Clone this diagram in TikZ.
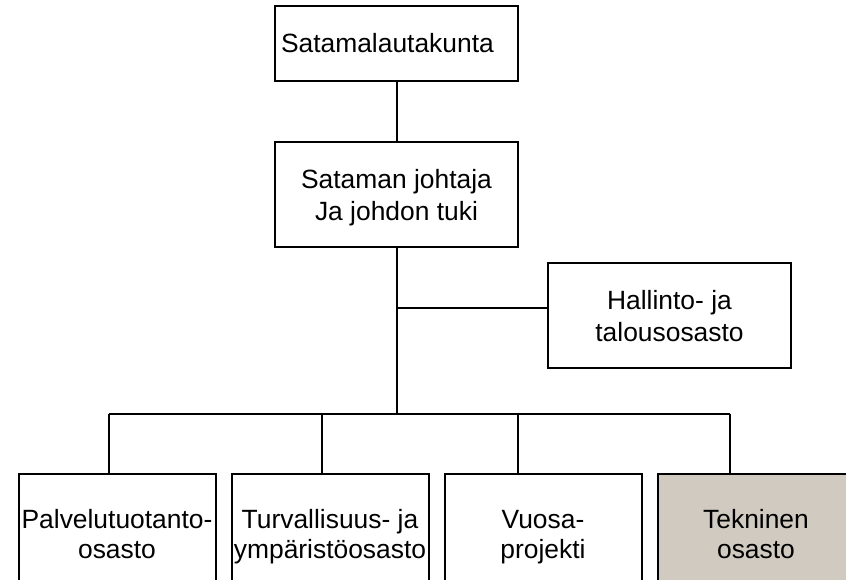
\documentclass[tikz,border=0pt]{standalone}
\usepackage{fontspec}
\setmainfont{Liberation Sans}
\usetikzlibrary{positioning}
\definecolor{taupe}{RGB}{208,202,193}

\begin{document}
\begin{tikzpicture}
[x=1pt, y=-1pt, line width=2pt, node distance=14pt,
every node/.style={shape=rectangle, draw, align=center, font=\fontsize{26.4}{32}\selectfont},
rivit/.style={execute at begin node=\rule{0pt}{61pt}, execute at end node=\strut},
upper/.style={rivit, minimum width=243pt, minimum height=105pt},
lower/.style={rivit, minimum width=197pt, minimum height=116pt, inner xsep=2pt, font=\fontsize{26.4}{30}\selectfont}]
\useasboundingbox (0,0) rectangle (846,579);
\clip (0,0) rectangle (846,579);
\node[minimum height=75pt, text width=231pt, align=left, inner xsep=6pt] (lauta) at (396.5,43.5) {Satamalautakunta};
\node[upper] (johtaja) at (396.5,194.5) {Sataman johtaja\\Ja johdon tuki};
\node[upper] (hallinto) at (669.5,315.5) {Hallinto- ja\\talousosasto};
\node[lower] (palvelu) at (117,532) {Palvelutuotanto-\\osasto};
\node[lower, right=of palvelu] (turva) {Turvallisuus- ja\\ympäristöosasto};
\node[lower, right=of turva] (vuosa) {Vuosa-\\projekti};
\node[lower, right=of vuosa, fill=taupe] (tekninen) {Tekninen\\osasto};
\coordinate (haara) at (396.5,308);
\coordinate (runko) at (396.5,414);
\draw (lauta) -- (johtaja);
\draw (johtaja) -- (runko);
\draw (haara) -- (haara -| hallinto.west);
\foreach \n/\x in {palvelu/109, turva/322, vuosa/518, tekninen/730}{
  \coordinate (b-\n) at (\x,414);
  \draw (b-\n) -- (b-\n |- \n.north);
}
\draw (b-palvelu) -- (b-tekninen);
\end{tikzpicture}
\end{document}
